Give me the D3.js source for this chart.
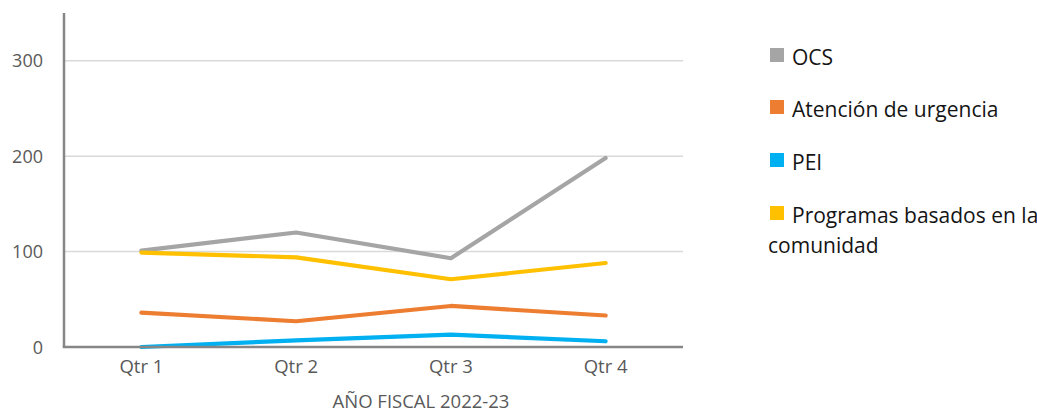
<!DOCTYPE html>
<html>
<head>
<meta charset="utf-8">
<script src="https://cdn.jsdelivr.net/npm/d3@7"></script>
<style>
  body { margin: 0; background: #fff; }
  text { font-family: "Open Sans", sans-serif; }
</style>
</head>
<body>
<div id="chart"></div>
<script>
// data
const quarters = ["Qtr 1", "Qtr 2", "Qtr 3", "Qtr 4"];
const seriesNames = ["OCS", "Atención de urgencia", "PEI", "Programas basados en la comunidad"];
const ocs = [101, 120, 93, 198];
const urgencia = [36, 27, 43, 33];
const pei = [0, 7, 13, 6];
const programas = [99, 94, 71, 88];
const yTicks = [0, 100, 200, 300];
const xTitle = "AÑO FISCAL 2022-23";

const colors = ["#A5A5A5", "#ED7D31", "#00B0F0", "#FFC000"];
const series = [ocs, urgencia, pei, programas];

const W = 1037, H = 413;
const margin = { top: 13, left: 64, right: 354, bottom: 66 };

const svg = d3.select("#chart").append("svg")
  .attr("width", W)
  .attr("height", H);

const x = d3.scaleBand()
  .domain(quarters)
  .range([margin.left, W - margin.right]);

const y = d3.scaleLinear()
  .domain([0, 350])
  .range([H - margin.bottom, margin.top]);

// gridlines
svg.append("g")
  .selectAll("line")
  .data(yTicks.filter(d => d > 0))
  .join("line")
  .attr("x1", margin.left)
  .attr("x2", W - margin.right)
  .attr("y1", d => y(d))
  .attr("y2", d => y(d))
  .attr("stroke", "#D9D9D9")
  .attr("stroke-width", 1.5);

// y tick labels
svg.append("g")
  .selectAll("text")
  .data(yTicks)
  .join("text")
  .attr("x", 43)
  .attr("y", d => y(d))
  .attr("dy", 6.5)
  .attr("text-anchor", "end")
  .attr("font-size", 18)
  .attr("fill", "#595959")
  .text(d => d);

// lines
const line = d3.line()
  .x((d, i) => x(quarters[i]) + x.bandwidth() / 2)
  .y(d => y(d));

svg.append("g")
  .selectAll("path")
  .data(series)
  .join("path")
  .attr("d", d => line(d))
  .attr("fill", "none")
  .attr("stroke", (d, i) => colors[i])
  .attr("stroke-width", 4.2)
  .attr("stroke-linecap", "round")
  .attr("stroke-linejoin", "round");

// axes lines
svg.append("line")
  .attr("x1", margin.left).attr("x2", margin.left)
  .attr("y1", margin.top).attr("y2", y(0))
  .attr("stroke", "#868686").attr("stroke-width", 2.5);

svg.append("line")
  .attr("x1", margin.left - 1.25).attr("x2", W - margin.right)
  .attr("y1", y(0)).attr("y2", y(0))
  .attr("stroke", "#868686").attr("stroke-width", 2.5);

// x tick labels
svg.append("g")
  .selectAll("text")
  .data(quarters)
  .join("text")
  .attr("x", d => x(d) + x.bandwidth() / 2)
  .attr("y", 373)
  .attr("text-anchor", "middle")
  .attr("font-size", 18.5)
  .attr("fill", "#595959")
  .text(d => d);

svg.append("text")
  .attr("x", 421)
  .attr("y", 408)
  .attr("text-anchor", "middle")
  .attr("font-size", 18.5)
  .attr("fill", "#595959")
  .text(xTitle);

// legend
const legendRows = [65, 117, 170, 223];
const legend = svg.append("g");
seriesNames.forEach((name, i) => {
  legend.append("rect")
    .attr("x", 770)
    .attr("y", legendRows[i] - 17)
    .attr("width", 14)
    .attr("height", 14)
    .attr("fill", colors[i]);
  const t = legend.append("text")
    .attr("x", 792)
    .attr("y", legendRows[i])
    .attr("font-size", 21)
    .attr("fill", "#141414");
  if (i === 3) {
    t.text("Programas basados en la");
    legend.append("text")
      .attr("x", 768)
      .attr("y", legendRows[i] + 30)
      .attr("font-size", 21)
      .attr("fill", "#141414")
      .text("comunidad");
  } else {
    t.text(name);
  }
});
</script>
</body>
</html>
